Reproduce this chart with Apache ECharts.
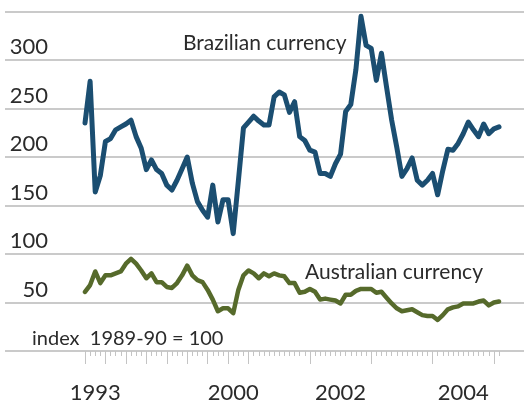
<!DOCTYPE html>
<html>
<head>
<meta charset="utf-8">
<script src="https://cdn.jsdelivr.net/npm/echarts@6/dist/echarts.min.js"></script>
<style>
  html, body { margin: 0; padding: 0; background: #fff; }
  #chart { width: 524px; height: 406px; }
</style>
</head>
<body>
<div id="chart"></div>
<script>
  // periods: quarterly to 2000, then monthly
  var quarters = [];
  for (var y = 1993; y <= 2000; y++) {
    for (var q = 1; q <= 4; q++) quarters.push(y + ' Q' + q);
  }
  var monthNames = ['Jan','Feb','Mar','Apr','May','Jun','Jul','Aug','Sep','Oct','Nov','Dec'];
  var months = [];
  for (var y2 = 2001; y2 <= 2004; y2++) {
    for (var m = 0; m < 12; m++) months.push(y2 + ' ' + monthNames[m]);
  }
  months.push('2005 Jan', '2005 Feb');
  var periods = quarters.concat(months);

  // index 1989-90 = 100
  var brazil = [
    235, 278, 164, 181, 216, 219, 228, 231, 234, 238, 221, 209, 187, 197, 187, 183,
    171, 166, 176, 188, 200, 173, 154, 145, 138, 171, 133, 156, 156, 121, 175, 230,
    236, 242, 237, 233, 233, 262, 267, 264, 246, 257, 221, 217, 207, 205, 183, 183,
    180, 193, 203, 247, 254, 290, 345, 315, 312, 279, 307, 272, 238, 210, 180, 188,
    199, 176, 171, 176, 183, 161, 186, 208, 207, 214, 224, 236, 228, 221, 234, 224,
    229, 231
  ];
  var australia = [
    61, 68, 82, 70, 78, 78, 80, 82, 90, 95, 90, 83, 75, 80, 71, 71,
    66, 65, 70, 78, 88, 78, 73, 71, 63, 53, 41, 44, 44, 39, 63, 78,
    83, 80, 75, 80, 77, 80, 78, 77, 70, 70, 60, 61, 64, 61, 53, 54,
    53, 52, 49, 58, 58, 62, 64, 64, 64, 60, 61, 55, 49, 44, 41, 42,
    43, 40, 37, 36, 36, 32, 37, 43, 45, 46, 49, 49, 49, 51, 52, 47,
    50, 51
  ];
  var yearLabelIdx = [2, 29, 50, 74];
  var yearLabelText = ['1993', '2000', '2002', '2004'];

  var FONT = 'Lato';
  var TEXT = '#2b2b2b';
  var GRID = '#b9b9b9';

  function isYearStart(name) {
    return /Q1$/.test(name) || /Jan$/.test(name);
  }

  var chart = echarts.init(document.getElementById('chart'));
  chart.setOption({
    animation: false,
    textStyle: { fontFamily: FONT },
    grid: [
      { left: 5, right: 0, top: 11.5, bottom: 55, outerBoundsMode: 'none' },
      { left: 85, right: 25, top: 11.5, bottom: 55, outerBoundsMode: 'none' }
    ],
    xAxis: [
      { gridIndex: 0, type: 'value', show: false, min: 0, max: 1 },
      {
        gridIndex: 1, type: 'category', position: 'bottom', data: periods, boundaryGap: false,
        axisLine: { show: false },
        axisTick: { show: true, length: 5, interval: 0, lineStyle: { color: '#c4c4c4', width: 1 } },
        axisLabel: { show: false },
        splitLine: { show: false }
      },
      {
        gridIndex: 1, type: 'category', position: 'bottom', data: periods, boundaryGap: false,
        axisLine: { show: false },
        axisTick: {
          show: true, length: 13,
          interval: function (i, name) { return isYearStart(name); },
          lineStyle: { color: '#c4c4c4', width: 1 }
        },
        axisLabel: {
          show: true, margin: 31, fontSize: 22, color: TEXT, fontFamily: FONT,
          interval: function (i) { return yearLabelIdx.indexOf(i) >= 0; },
          formatter: function (v, i) {
            var k = yearLabelIdx.indexOf(i);
            return k >= 0 ? yearLabelText[k] : '';
          }
        },
        splitLine: { show: false }
      }
    ],
    yAxis: [
      {
        gridIndex: 0, type: 'value', min: 0, max: 350, interval: 50,
        axisLine: { show: false }, axisTick: { show: false },
        splitLine: { show: true, lineStyle: { color: GRID, width: 1.5 } },
        axisLabel: {
          inside: true, margin: 43, align: 'right', verticalAlign: 'bottom',
          padding: [0, 0, 2, 0],
          fontSize: 22, color: TEXT, fontFamily: FONT,
          formatter: function (v) { return (v === 0 || v === 350) ? '' : String(v); }
        }
      },
      { gridIndex: 1, type: 'value', min: 0, max: 350, interval: 50, show: false }
    ],
    graphic: [
      { type: 'text', left: 183, top: 33, style: { text: 'Brazilian currency', font: '21px ' + FONT, fill: TEXT } },
      { type: 'text', left: 305, top: 262, style: { text: 'Australian currency', font: '21px ' + FONT, fill: TEXT } },
      { type: 'text', left: 32, top: 329, style: { text: 'index  1989-90 = 100', font: '20px ' + FONT, fill: TEXT } }
    ],
    series: [
      {
        name: 'Brazilian currency', type: 'line', xAxisIndex: 1, yAxisIndex: 1,
        data: brazil, symbol: 'none',
        lineStyle: { color: '#1b4e71', width: 5, cap: 'round', join: 'round' }
      },
      {
        name: 'Australian currency', type: 'line', xAxisIndex: 1, yAxisIndex: 1,
        data: australia, symbol: 'none',
        lineStyle: { color: '#566a2b', width: 4.5, cap: 'round', join: 'round' }
      }
    ]
  });
</script>
</body>
</html>
